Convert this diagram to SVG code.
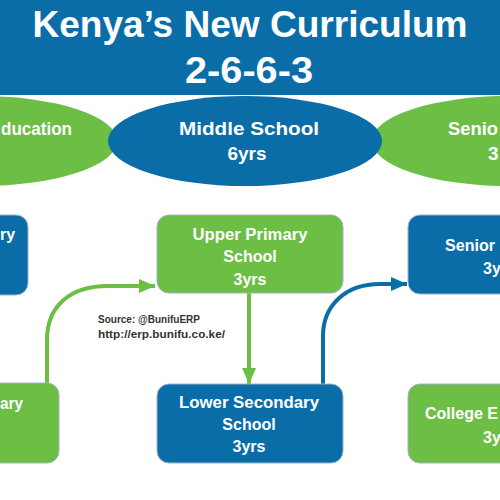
<svg xmlns="http://www.w3.org/2000/svg" width="500" height="500" viewBox="0 0 500 500">
<defs>
<style>
.t{font-family:"Liberation Sans",Arial,sans-serif;font-weight:bold;fill:#fff}
.hd{font-size:36px}
.el{font-size:19px}
.bx{font-size:16px}
.src{font-family:"Liberation Sans",Arial,sans-serif;font-weight:bold;font-size:10.5px;fill:#333}
.blue{fill:#0B6DA8}
.green{fill:#6DBE45}
.box{stroke:#9fb2c2;stroke-width:1}
.cg{fill:none;stroke:#6DBE45;stroke-width:4}
.cb{fill:none;stroke:#0B6DA8;stroke-width:4}
</style>
<marker id="ag" markerUnits="userSpaceOnUse" markerWidth="18" markerHeight="14" refX="16" refY="7" orient="auto"><path d="M0,0 L16,7 L0,14 Z" fill="#6DBE45"/></marker>
<marker id="ab" markerUnits="userSpaceOnUse" markerWidth="18" markerHeight="14" refX="16" refY="7" orient="auto"><path d="M0,0 L16,7 L0,14 Z" fill="#0B6DA8"/></marker>
</defs>
<rect width="500" height="500" fill="#fff"/>

<g id="ell-left">
<ellipse class="green" cx="-20" cy="141" rx="137" ry="45"/>
<text class="t el" x="1" y="135" textLength="71" lengthAdjust="spacingAndGlyphs">ducation</text>
</g>
<g id="ell-right">
<ellipse class="green" cx="509" cy="141" rx="137" ry="45"/>
<text class="t el" x="448" y="135" textLength="50" lengthAdjust="spacingAndGlyphs">Senio</text>
<text class="t el" x="488" y="160">3</text>
</g>
<g id="ell-middle">
<ellipse class="blue" cx="245" cy="141" rx="137" ry="45"/>
<text class="t el" x="249" y="135" text-anchor="middle" textLength="140" lengthAdjust="spacingAndGlyphs">Middle School</text>
<text class="t el" x="247" y="160" text-anchor="middle">6yrs</text>
</g>

<g id="header">
<rect class="blue" x="0" y="0" width="500" height="95"/>
<text class="t hd" x="250" y="37" text-anchor="middle" textLength="435" lengthAdjust="spacingAndGlyphs">Kenya’s New Curriculum</text>
<text class="t hd" x="249" y="83" text-anchor="middle" textLength="128" lengthAdjust="spacingAndGlyphs">2-6-6-3</text>
</g>

<g id="connectors">
<path class="cg" d="M47,384 L47,340 C47,306 70,286 108,286 L155,286" marker-end="url(#ag)"/>
<path class="cg" d="M249,293 L249,384" marker-end="url(#ag)"/>
<path class="cb" d="M323,384 L323,336 C323,306 345,284 380,284 L407,284" marker-end="url(#ab)"/>
</g>

<g id="box-lower-primary">
<rect class="blue box" x="-20" y="215" width="48" height="80" rx="12"/>
<text class="t bx" x="0" y="240">ry</text>
</g>
<g id="box-upper-primary">
<rect class="green box" x="157" y="215" width="186" height="78" rx="12"/>
<text class="t bx" x="250" y="240" text-anchor="middle" textLength="115" lengthAdjust="spacingAndGlyphs">Upper Primary</text>
<text class="t bx" x="250" y="262" text-anchor="middle">School</text>
<text class="t bx" x="250" y="285" text-anchor="middle">3yrs</text>
</g>
<g id="box-senior">
<rect class="blue box" x="408" y="215" width="110" height="79" rx="12"/>
<text class="t bx" x="445" y="251" textLength="50" lengthAdjust="spacingAndGlyphs">Senior</text>
<text class="t bx" x="483" y="274">3y</text>
</g>
<g id="box-pre-primary">
<rect class="green box" x="-20" y="383" width="79" height="80" rx="12"/>
<text class="t bx" x="0" y="409" textLength="23" lengthAdjust="spacingAndGlyphs">ary</text>
</g>
<g id="box-lower-secondary">
<rect class="blue box" x="157" y="384" width="186" height="79" rx="12"/>
<text class="t bx" x="249" y="408" text-anchor="middle" textLength="140" lengthAdjust="spacingAndGlyphs">Lower Secondary</text>
<text class="t bx" x="249" y="430" text-anchor="middle">School</text>
<text class="t bx" x="249" y="452" text-anchor="middle">3yrs</text>
</g>
<g id="box-college">
<rect class="green box" x="408" y="384" width="110" height="79" rx="12"/>
<text class="t bx" x="425" y="419" textLength="73" lengthAdjust="spacingAndGlyphs">College E</text>
<text class="t bx" x="483" y="443">3y</text>
</g>

<g id="source">
<text class="src" x="98" y="323" textLength="102" lengthAdjust="spacingAndGlyphs">Source: @BunifuERP</text>
<text class="src" x="98" y="338" textLength="127" lengthAdjust="spacingAndGlyphs">http://erp.bunifu.co.ke/</text>
</g>
</svg>
